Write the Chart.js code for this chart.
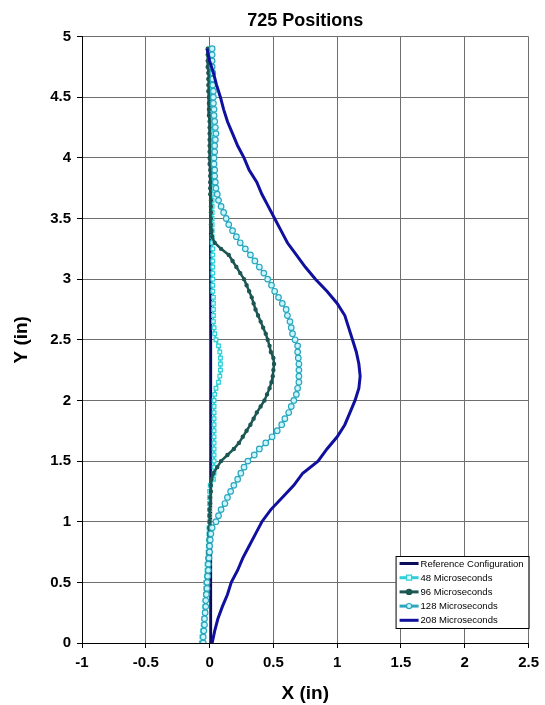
<!DOCTYPE html>
<html>
<head>
<meta charset="utf-8">
<script src="https://cdn.jsdelivr.net/npm/chart.js@4.4.1/dist/chart.umd.min.js"></script>
<style>
body{margin:0;background:#fff;}
</style>
</head>
<body>
<canvas id="chart" width="545" height="705"></canvas>
<script>
var chartTitle = '725 Positions';
var seriesNames = ['Reference Configuration', '48 Microseconds', '96 Microseconds', '128 Microseconds', '208 Microseconds'];
var xTicks = [-1, -0.5, 0, 0.5, 1, 1.5, 2, 2.5];
var yTicks = [0, 0.5, 1, 1.5, 2, 2.5, 3, 3.5, 4, 4.5, 5];

// y positions shared by the marker series
var yPos = [0, 0.05, 0.1, 0.15, 0.2, 0.25, 0.3, 0.35, 0.4, 0.45,
	0.5, 0.55, 0.6, 0.65, 0.7, 0.75, 0.8, 0.85, 0.9, 0.95,
	1, 1.05, 1.1, 1.15, 1.2, 1.25, 1.3, 1.35, 1.4, 1.45,
	1.5, 1.55, 1.6, 1.65, 1.7, 1.75, 1.8, 1.85, 1.9, 1.95,
	2, 2.05, 2.1, 2.15, 2.2, 2.25, 2.3, 2.35, 2.4, 2.45,
	2.5, 2.55, 2.6, 2.65, 2.7, 2.75, 2.8, 2.85, 2.9, 2.95,
	3, 3.05, 3.1, 3.15, 3.2, 3.25, 3.3, 3.35, 3.4, 3.45,
	3.5, 3.55, 3.6, 3.65, 3.7, 3.75, 3.8, 3.85, 3.9, 3.95,
	4, 4.05, 4.1, 4.15, 4.2, 4.25, 4.3, 4.35, 4.4, 4.45,
	4.5, 4.55, 4.6, 4.65, 4.7, 4.75, 4.8, 4.85, 4.9];

var x48 = [-0.065, -0.06, -0.055, -0.05, -0.045, -0.04, -0.038, -0.035, -0.033, -0.03,
	-0.03, -0.025, -0.02, -0.02, -0.015, -0.012, -0.01, -0.008, -0.005, -0.005,
	0, 0, 0, 0, 0, 0, 0.005, 0.03, 0.035, 0.035,
	0.035, 0.035, 0.035, 0.035, 0.035, 0.035, 0.035, 0.035, 0.035, 0.035,
	0.035, 0.04, 0.05, 0.07, 0.08, 0.085, 0.085, 0.085, 0.08, 0.07,
	0.05, 0.04, 0.035, 0.03, 0.03, 0.03, 0.03, 0.03, 0.025, 0.025,
	0.025, 0.025, 0.025, 0.025, 0.025, 0.025, 0.02, 0.02, 0.02, 0.02,
	0.02, 0.02, 0.02, 0.02, 0.02, 0.02, 0.02, 0.02, 0.02, 0.02,
	0.02, 0.02, 0.02, 0.02, 0.02, 0.02, 0.015, 0.015, 0.015, 0.015,
	0.015, 0.01, 0.01, 0.01, 0.01, 0.005, 0.005, 0, 0];

var x96 = [-0.05, -0.048, -0.045, -0.043, -0.04, -0.038, -0.035, -0.033, -0.03, -0.028,
	-0.025, -0.022, -0.02, -0.018, -0.015, -0.012, -0.01, -0.008, -0.005, -0.003,
	0, 0, 0, 0.005, 0.005, 0.01, 0.01, 0.015, 0.03, 0.06,
	0.09, 0.14, 0.19, 0.23, 0.26, 0.29, 0.32, 0.345, 0.37, 0.4,
	0.43, 0.45, 0.47, 0.485, 0.495, 0.5, 0.505, 0.5, 0.48, 0.47,
	0.455, 0.44, 0.42, 0.4, 0.38, 0.36, 0.345, 0.33, 0.31, 0.29,
	0.27, 0.24, 0.21, 0.18, 0.15, 0.09, 0.04, 0.02, 0.015, 0.01,
	0.01, 0.01, 0.01, 0.01, 0.005, 0.005, 0.005, 0.005, 0.005, 0,
	0, 0, 0, 0, 0, 0, 0, -0.005, -0.005, -0.005,
	-0.005, -0.01, -0.01, -0.01, -0.01, -0.015, -0.015, -0.015, -0.015];

var x128 = [-0.05, -0.05, -0.045, -0.04, -0.04, -0.035, -0.03, -0.03, -0.025, -0.02,
	-0.02, -0.015, -0.01, -0.01, -0.005, 0, 0, 0.005, 0.01, 0.02,
	0.05, 0.07, 0.09, 0.12, 0.14, 0.165, 0.19, 0.22, 0.245, 0.27,
	0.3, 0.35, 0.39, 0.44, 0.49, 0.53, 0.565, 0.59, 0.62, 0.64,
	0.66, 0.68, 0.69, 0.7, 0.7, 0.7, 0.7, 0.695, 0.69, 0.69,
	0.67, 0.65, 0.64, 0.63, 0.61, 0.6, 0.57, 0.54, 0.51, 0.485,
	0.455, 0.425, 0.39, 0.355, 0.32, 0.28, 0.24, 0.21, 0.18, 0.15,
	0.13, 0.11, 0.09, 0.07, 0.06, 0.05, 0.045, 0.04, 0.04, 0.035,
	0.035, 0.04, 0.04, 0.045, 0.05, 0.045, 0.04, 0.035, 0.035, 0.03,
	0.03, 0.03, 0.025, 0.025, 0.025, 0.02, 0.02, 0.02, 0.02];

var y208 = [0, 0.1, 0.2, 0.3, 0.4, 0.5, 0.6, 0.7, 0.8, 0.9,
	1, 1.1, 1.2, 1.3, 1.4, 1.5, 1.6, 1.7, 1.8, 1.9,
	2, 2.1, 2.2, 2.3, 2.4, 2.5, 2.6, 2.7, 2.8, 2.9,
	3, 3.1, 3.2, 3.3, 3.4, 3.5, 3.6, 3.7, 3.8, 3.9,
	4, 4.1, 4.2, 4.3, 4.4, 4.5, 4.6, 4.7, 4.8, 4.9];
var x208 = [0.02, 0.04, 0.065, 0.1, 0.14, 0.17, 0.22, 0.26, 0.31, 0.36,
	0.41, 0.48, 0.57, 0.66, 0.73, 0.85, 0.92, 1, 1.06, 1.1,
	1.14, 1.17, 1.18, 1.17, 1.15, 1.12, 1.09, 1.06, 1, 0.92,
	0.83, 0.75, 0.68, 0.61, 0.56, 0.51, 0.46, 0.41, 0.37, 0.31,
	0.27, 0.22, 0.18, 0.14, 0.11, 0.085, 0.055, 0.03, 0, -0.02];

var yRef = [0, 2.5, 4.9];
var xRef = [0.01, 0.01, 0];

var fontFam = "'Liberation Sans', Arial, sans-serif";

function toPoints(xs, ys){
	var pts = [];
	for(var i = 0; i < xs.length; i++){
		pts.push({x: xs[i], y: ys[i]});
	}
	return pts;
}

function plainLabel(value){
	return String(value);
}

var styles = [
	{line: '#0b0b5c', width: 2.5, point: 'line', radius: 0, fill: '#0b0b5c'},
	{line: '#2fcfd8', width: 2, point: 'rect', radius: 2.6, fill: '#d6ffff'},
	{line: '#1c5753', width: 2.5, point: 'circle', radius: 1.6, fill: '#1c5753'},
	{line: '#2aa6bd', width: 1.5, point: 'circle', radius: 2.8, fill: '#c9f6ff'},
	{line: '#10109e', width: 3, point: 'line', radius: 0, fill: '#10109e'}
];
var seriesData = [toPoints(xRef, yRef), toPoints(x48, yPos), toPoints(x96, yPos), toPoints(x128, yPos), toPoints(x208, y208)];

var datasets = [];
for(var i = 0; i < seriesNames.length; i++){
	datasets.push({
		label: seriesNames[i],
		data: seriesData[i],
		showLine: true,
		borderColor: styles[i].line,
		borderWidth: styles[i].width,
		pointStyle: styles[i].point,
		pointRadius: styles[i].radius,
		pointBorderColor: styles[i].line,
		pointBackgroundColor: styles[i].fill,
		pointBorderWidth: 1.2,
		tension: 0,
		order: 5 - i
	});
}

var legendBox = {
	id: 'legendBox',
	afterDraw: function(chart){
		var ctx = chart.ctx;
		var a = chart.chartArea;
		var x0 = a.right - 133, y0 = a.bottom - 87;
		ctx.save();
		ctx.fillStyle = '#fff';
		ctx.fillRect(x0, y0, 133, 72);
		ctx.strokeStyle = '#000';
		ctx.lineWidth = 1;
		ctx.strokeRect(x0 + 0.5, y0 + 0.5, 133, 72);
		ctx.font = '9.5px ' + fontFam;
		ctx.textBaseline = 'middle';
		for(var i = 0; i < seriesNames.length; i++){
			var ry = y0 + 7.5 + i * 14.2;
			var s = styles[i];
			ctx.strokeStyle = s.line;
			ctx.lineWidth = 3;
			ctx.beginPath();
			ctx.moveTo(x0 + 4, ry);
			ctx.lineTo(x0 + 23, ry);
			ctx.stroke();
			if(s.radius > 0){
				ctx.lineWidth = 1.2;
				ctx.fillStyle = s.fill;
				ctx.beginPath();
				if(s.point == 'rect'){
					ctx.rect(x0 + 11, ry - 2.5, 5, 5);
				}
				else{
					ctx.arc(x0 + 13.5, ry, 2.6, 0, Math.PI * 2);
				}
				ctx.fill();
				ctx.stroke();
			}
			ctx.fillStyle = '#000';
			ctx.fillText(seriesNames[i], x0 + 25, ry + 0.5);
		}
		ctx.restore();
	}
};

var ctx = document.getElementById('chart').getContext('2d');
var myChart = new Chart(ctx, {
	type: 'scatter',
	data: {datasets: datasets},
	options: {
		responsive: false,
		animation: false,
		devicePixelRatio: 1,
		layout: {padding: {left: 0, right: 15, top: 0, bottom: 0}},
		plugins: {
			legend: {display: false},
			tooltip: {enabled: false},
			title: {
				display: true,
				fullSize: false,
				text: chartTitle,
				color: '#000',
				font: {family: fontFam, size: 18, weight: 'bold'},
				padding: {top: 10, bottom: 5}
			}
		},
		scales: {
			x: {
				type: 'linear',
				min: -1,
				max: 2.5,
				afterBuildTicks: function(scale){
					scale.ticks = xTicks.map(function(v){ return {value: v}; });
				},
				afterFit: function(scale){ scale.height = 62; },
				ticks: {
					color: '#000',
					font: {family: fontFam, size: 15, weight: 'bold'},
					padding: 6,
					maxRotation: 0,
					callback: plainLabel
				},
				grid: {color: '#6f6f6f', lineWidth: 1, tickLength: 5, tickColor: '#000'},
				border: {color: '#000', width: 1},
				title: {
					display: true,
					text: 'X (in)',
					color: '#000',
					font: {family: fontFam, size: 19, weight: 'bold'},
					padding: {top: 0, bottom: 0}
				}
			},
			y: {
				type: 'linear',
				min: 0,
				max: 5,
				afterBuildTicks: function(scale){
					scale.ticks = yTicks.map(function(v){ return {value: v}; });
				},
				afterFit: function(scale){ scale.width = 82; },
				ticks: {
					color: '#000',
					font: {family: fontFam, size: 15, weight: 'bold'},
					padding: 6,
					callback: plainLabel
				},
				grid: {color: '#6f6f6f', lineWidth: 1, tickLength: 5, tickColor: '#000'},
				border: {color: '#000', width: 1},
				title: {
					display: true,
					text: 'Y (in)',
					color: '#000',
					font: {family: fontFam, size: 19, weight: 'bold'},
					padding: {top: 10, bottom: 0}
				}
			}
		}
	},
	plugins: [legendBox]
});
</script>
</body>
</html>
